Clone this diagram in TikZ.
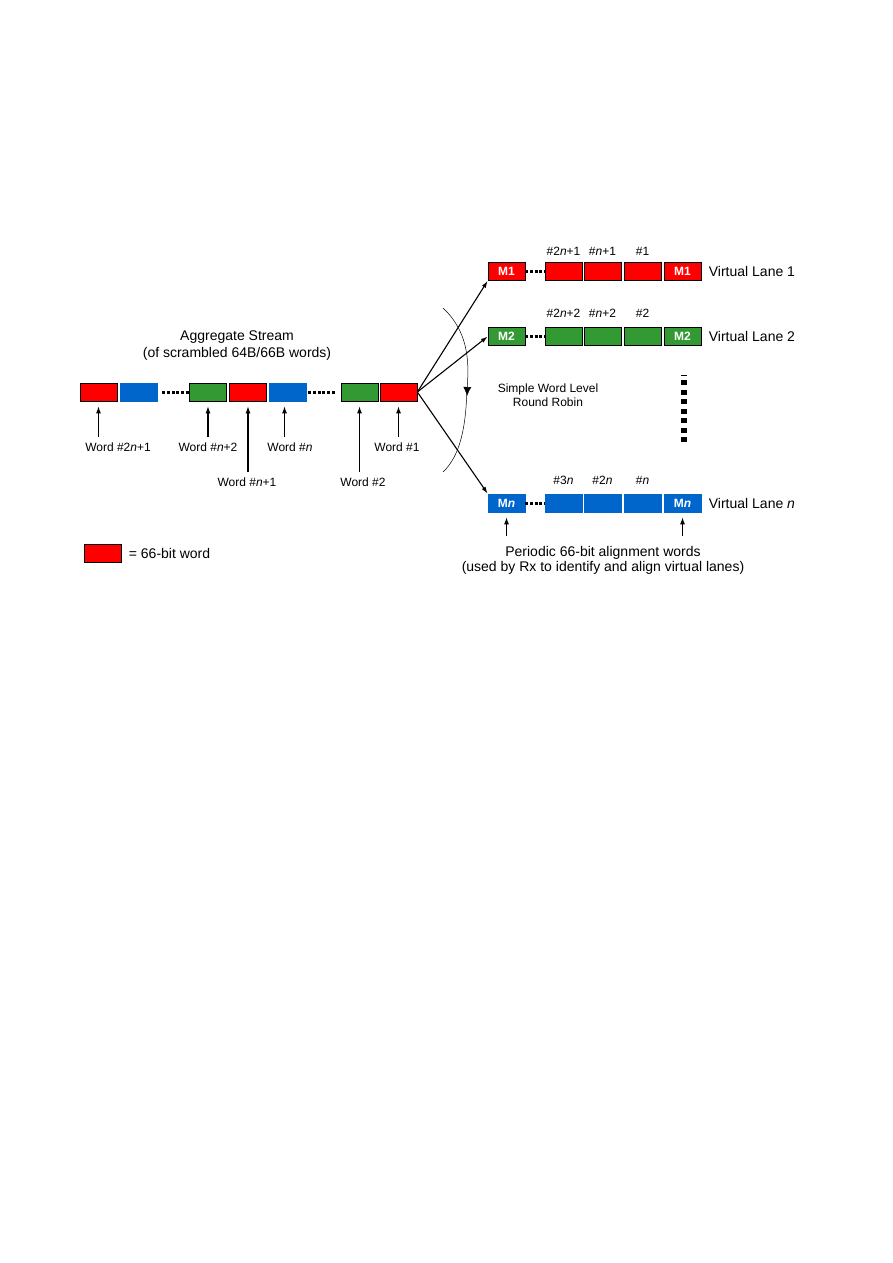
\documentclass[tikz,border=0pt]{standalone}
\usepackage{fontspec}
\setmainfont{Liberation Sans}
\usetikzlibrary{arrows.meta,positioning}

\definecolor{wordred}{HTML}{FF0000}
\definecolor{wordblue}{HTML}{0066CC}
\definecolor{wordgreen}{HTML}{339933}

\begin{document}
\begin{tikzpicture}[x=1pt,y=-1pt,
  word/.style={minimum width=37pt,minimum height=18pt,inner sep=0pt,line width=0.7pt},
  redw/.style={word,fill=wordred,draw=black},
  greenw/.style={word,fill=wordgreen,draw=black},
  bluew/.style={word,fill=wordblue,draw=wordblue},
  mword/.style={text=white,font=\fontsize{12}{14}\selectfont\bfseries},
  lbl/.style={font=\fontsize{12}{14}\selectfont,inner xsep=1pt,inner ysep=6pt},
  big/.style={font=\fontsize{14}{17}\selectfont},
  dots/.style={line width=3pt,dash pattern=on 3pt off 1.7pt},
  tip/.style={-{Latex[length=7pt,width=5pt]},line width=1.1pt},
  fan/.style={-{Latex[length=7pt,width=4.5pt]},line width=1.1pt}]

  % page
  \useasboundingbox (0,0) rectangle (893,1263);

  % Aggregate stream
  \node[big,align=center] (title) at (237,346) {Aggregate Stream\\(of scrambled 64B/66B words)};
  \node[redw] (s1) at (98.5,392) {};
  \node[bluew] (s2) at (138.5,392) {};
  \node[greenw] (s3) at (208,392) {};
  \node[redw] (s4) at (248,392) {};
  \node[bluew] (s5) at (287.5,392) {};
  \node[greenw] (s6) at (359.5,392) {};
  \node[redw] (s7) at (398.5,392) {};
  \draw[dots] ([xshift=5pt]s2.east) -- (s3.west);
  \draw[dots] ([xshift=2pt]s5.east) -- ([xshift=-5pt]s6.west);

  % Word labels under the stream
  \node[lbl,anchor=north] (w1) at (118,437) {Word \#2\textit{n}+1};
  \node[lbl,anchor=north] (w2) at (208,437) {Word \#\textit{n}+2};
  \node[lbl,anchor=north] (w3) at (247,472) {Word \#\textit{n}+1};
  \node[lbl,anchor=north] (w4) at (290,437) {Word \#\textit{n}};
  \node[lbl,anchor=north] (w5) at (363,472) {Word \#2};
  \node[lbl,anchor=north] (w6) at (397,437) {Word \#1};
  \draw[tip] (s1.south |- w1.north) -- ([yshift=-5pt]s1.south);
  \draw[tip] (s3.south |- w2.north) -- ([yshift=-5pt]s3.south);
  \draw[tip] (s4.south |- w3.north) -- ([yshift=-5pt]s4.south);
  \draw[tip] ([xshift=-3pt]s5.south |- w4.north) -- ([xshift=-3pt,yshift=-5pt]s5.south);
  \draw[tip] (s6.south |- w5.north) -- ([yshift=-5pt]s6.south);
  \draw[tip] (s7.south |- w6.north) -- ([yshift=-5pt]s7.south);

  % Virtual lane 1
  \node[redw,mword] (a1) at (506.5,271.5) {M1};
  \node[redw] (a2) at (563.5,271.5) {};
  \node[redw] (a3) at (602.5,271.5) {};
  \node[redw] (a4) at (642.5,271.5) {};
  \node[redw,mword] (a5) at (682.5,271.5) {M1};
  \draw[dots] (a1.east) -- (a2.west);
  \node[lbl,above=0pt of a2] {\#2\textit{n}+1};
  \node[lbl,above=0pt of a3] {\#\textit{n}+1};
  \node[lbl,above=0pt of a4] {\#1};
  \node[big,right=4pt of a5] {Virtual Lane 1};

  % Virtual lane 2
  \node[greenw,mword] (b1) at (506.5,336.5) {M2};
  \node[greenw] (b2) at (563.5,336.5) {};
  \node[greenw] (b3) at (602.5,336.5) {};
  \node[greenw] (b4) at (642.5,336.5) {};
  \node[greenw,mword] (b5) at (682.5,336.5) {M2};
  \draw[dots] (b1.east) -- (b2.west);
  \node[lbl,above=3pt of b2] {\#2\textit{n}+2};
  \node[lbl,above=3pt of b3] {\#\textit{n}+2};
  \node[lbl,above=3pt of b4] {\#2};
  \node[big,right=4pt of b5] {Virtual Lane 2};

  % Virtual lane n
  \node[bluew,mword] (c1) at (506.5,503) {M\textit{n}};
  \node[bluew] (c2) at (563.5,503) {};
  \node[bluew] (c3) at (602.5,503) {};
  \node[bluew] (c4) at (642.5,503) {};
  \node[bluew,mword] (c5) at (682.5,503) {M\textit{n}};
  \draw[dots] (c1.east) -- (c2.west);
  \node[lbl,above=3pt of c2] {\#3\textit{n}};
  \node[lbl,above=3pt of c3] {\#2\textit{n}};
  \node[lbl,above=3pt of c4] {\#\textit{n}};
  \node[big,right=4pt of c5] {Virtual Lane \textit{n}};

  % more lanes
  \draw[line width=0.8pt] (681,375) -- (687,375);
  \draw[line width=6pt,dash pattern=on 5pt off 4.5pt] (684,380) -- (684,445);

  % Distribution to the lanes
  \draw[fan] (s7.east) -- (a1.south west);
  \draw[fan] (s7.east) -- (b1.west);
  \draw[fan] (s7.east) -- (c1.north west);

  % Round robin
  \draw[line width=0.5pt,-{Latex[length=9pt,width=8pt]}] (443,308) .. controls (472,335) and (468,370) .. (467,396);
  \draw[line width=0.5pt] (467,388) .. controls (466,425) and (461,455) .. (443,472);
  \node[lbl,align=center,inner ysep=2pt] (rr) at (548,395) {Simple Word Level\\Round Robin};

  % Alignment words
  \node[big,align=center,anchor=north,inner ysep=10pt,font=\fontsize{14}{15}\selectfont] (per) at (603,536)
    {Periodic 66-bit alignment words\\(used by Rx to identify and align virtual lanes)};
  \draw[tip] (c1.south |- per.north) -- ([yshift=-5pt]c1.south);
  \draw[tip] (c5.south |- per.north) -- ([yshift=-5pt]c5.south);

  % Legend
  \node[redw] (key) at (102.5,553) {};
  \node[big,right=4pt of key] {= 66-bit word};
\end{tikzpicture}
\end{document}
